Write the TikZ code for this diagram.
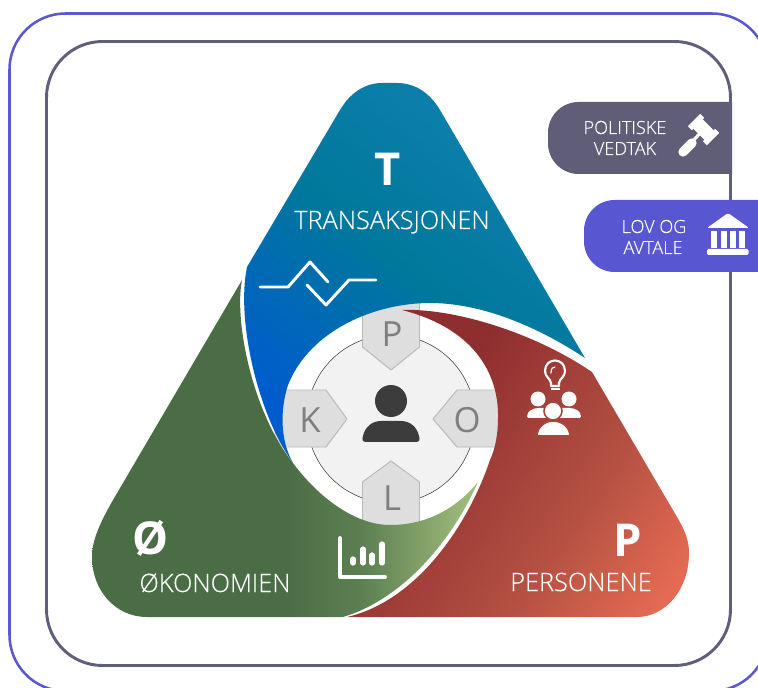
\documentclass[tikz,border=0pt]{standalone}
\usepackage{fontspec}
\setmainfont{Open Sans Light}[FakeBold=0.25]
\newfontfamily\regularfont{Open Sans}
\definecolor{rimpurple}{HTML}{5A58D0}
\definecolor{rimgrey}{HTML}{5F5E7C}
\definecolor{tabgrey}{HTML}{5F5D78}
\definecolor{tabpurple}{HTML}{5856D0}
\definecolor{peggrey}{HTML}{DEDEDE}
\definecolor{pegline}{HTML}{B8B8B8}
\definecolor{pegtext}{HTML}{7F7F7F}
\definecolor{hubgrey}{HTML}{F2F2F2}
\definecolor{figgrey}{HTML}{3C3C3C}
\definecolor{redhalo}{HTML}{A5473D}
\definecolor{bluelow}{HTML}{005CCD}
\definecolor{bluemid}{HTML}{00789B}
\definecolor{bluetop}{HTML}{1080B0}
\definecolor{greenlow}{HTML}{4B6D46}
\definecolor{greenmid}{HTML}{5C8052}
\definecolor{greenhigh}{HTML}{A5C07E}
\definecolor{redlow}{HTML}{8F2E2F}
\definecolor{redmid}{HTML}{B45143}
\definecolor{redhigh}{HTML}{E46A52}
\pgfdeclarehorizontalshading{greenfade}{100bp}{color(0bp)=(greenlow);
	color(50bp)=(greenlow);
	color(60bp)=(greenmid);
	color(75bp)=(greenhigh);
	color(100bp)=(greenhigh)}
\pgfdeclarehorizontalshading{redfade}{100bp}{color(0bp)=(redlow);
	color(35bp)=(redlow);
	color(62bp)=(redmid);
	color(80bp)=(redhigh);
	color(100bp)=(redhigh)}
\tikzset{
	rim/.style={line width=2.2pt,rounded corners=42pt},
	peg/.style={fill=peggrey,draw=pegline,line width=0.7pt},
	pegletter/.style={anchor=base,text=pegtext,font=\regularfont\fontsize{26}{26}\selectfont},
	bigletter/.style={anchor=base,text=white,font=\regularfont\bfseries\fontsize{34}{34}\selectfont},
	wedgetitle/.style={anchor=base,text=white,font=\fontsize{19}{19}\selectfont},
	tabtext/.style={anchor=base,text=white,font=\fontsize{13.6}{13.6}\selectfont},
	iconline/.style={draw=white,line width=2.2pt}
}
\begin{document}
\begin{tikzpicture}[x=0.75pt,y=-0.75pt,line join = round, line cap = round]
	\useasboundingbox (0,0) rectangle (758,688);
	\clip (0,0) rectangle (758,688);
	% frames
	\draw[rim,draw=rimpurple,line width=1.9pt] (9.5,13.5) rectangle (768,691);
	\draw[rim,draw=rimgrey] (46.5,41.5) rectangle (730.5,665.5);
	% tabs
	\fill[tabgrey] (732,102) [rounded corners=23pt] -- (548,102) -- (548,174) [sharp corners] -- (732,174) -- cycle;
	\fill[tabpurple] (760,200) [rounded corners=23pt] -- (584,200) -- (584,272) [sharp corners] -- (760,272) -- cycle;
	\node[tabtext] (politiske) at (625,134) {POLITISKE};
	\node[tabtext] (vedtak) at (625,155) {VEDTAK};
	\node[tabtext] (lovog) at (654,233) {LOV OG};
	\node[tabtext] (avtale) at (653,254) {AVTALE};
	% gavel
	\draw[white,line width=2.4pt,line cap=butt] (703,130) -- (692,142);
	\draw[white,line width=7pt] (692,143) -- (683,152);
	\draw[white,line width=10pt,line cap=butt] (697,123) -- (710,136);
	\draw[white,line width=13pt,line cap=butt] (694,120) -- (698,124);
	\draw[white,line width=13pt,line cap=butt] (709,135) -- (713,139);
	% bank
	\fill[white,rounded corners=1pt] (728,213) -- (749,228) -- (707,228) -- cycle;
	\foreach \colx in {714,723.5,733,742}
		\fill[white] (\colx-3,231) rectangle (\colx+3,248);
	\fill[white,rounded corners=1pt] (707,249) rectangle (748.5,255);
	% hub
	\fill[hubgrey] (391,419) circle (84);
	\draw[figgrey,line width=0.4pt] (391,419) circle (84);
	\draw[peg] (362.5,295) -- (362.5,347) -- (391,370) -- (419.5,347) -- (419.5,295) -- cycle;
	\draw[peg] (275,390) -- (326,390) -- (347,419) -- (326,447) -- (275,447) -- cycle;
	\draw[peg] (505,390) -- (457,390) -- (433,419) -- (457,447) -- (505,447) -- cycle;
	\draw[peg] (362.5,535) -- (362.5,482) -- (391,461) -- (419.5,482) -- (419.5,535) -- cycle;
	\node[pegletter] (pegp) at (392,347) {P};
	\node[pegletter] (pegk) at (310,432) {K};
	\node[pegletter] (pego) at (467,432) {O};
	\node[pegletter] (pegl) at (392,510) {L};
	% figure
	\fill[figgrey] (391,401) circle (16);
	\fill[figgrey] (366,442) .. controls (362,442) and (362,439) .. (363,436) .. controls (365,427) and (372,421) .. (381,421) -- (401,421) .. controls (410,421) and (417,427) .. (419,436) .. controls (420,439) and (420,442) .. (416,442) -- cycle;
	% wedges
	\shade[bottom color=bluelow,top color=bluetop,middle color=bluemid,shading angle=-40]
		(293,463) .. controls (258,415) and (236,320) .. (247,267)
		-- (340,110) .. controls (350,93) and (365,83) .. (382,83) -- (397,83) .. controls (415,83) and (430,93) .. (440,110)
		-- (585,358) .. controls (535,325) and (480,303) .. (430,303)
		.. controls (375,303) and (310,330) .. (288,385)
		.. controls (280,410) and (280,440) .. (293,463) -- cycle;
	\shade[shading=redfade,shading angle=-35]
		(402,310) .. controls (450,308) and (530,330) .. (592,372)
		-- (677,517) .. controls (686,532) and (689,542) .. (689,553) .. controls (689,590) and (665,617) .. (637,617)
		-- (347,617) .. controls (420,600) and (470,520) .. (490,460)
		.. controls (496,447) and (498,432) .. (498,418)
		.. controls (499,380) and (480,330) .. (402,310) -- cycle;
	\shade[shading=greenfade]
		(242,280) -- (113,500) .. controls (100,523) and (92,540) .. (92,557) .. controls (92,590) and (115,617) .. (147,617)
		-- (343,617) .. controls (400,600) and (450,545) .. (478,482)
		.. controls (455,510) and (425,525) .. (390,525)
		.. controls (355,525) and (318,497) .. (293,463)
		.. controls (252,412) and (234,320) .. (242,280) -- cycle;
	% wedge texts
	\node[bigletter] (letterT) at (388,186) {T};
	\node[wedgetitle] (transaksjonen) at (392,229) {TRANSAKSJONEN};
	\node[bigletter] (letterO) at (151,554) {Ø};
	\node[wedgetitle] (okonomien) at (215,592) {ØKONOMIEN};
	\node[bigletter] (letterP) at (628,556) {P};
	\node[wedgetitle] (personene) at (581,591) {PERSONENE};
	% trend icon
	\draw[iconline] (260,287) -- (288,287) -- (310,262) -- (328,282);
	\draw[iconline] (307,285) -- (326,305) -- (349,280) -- (376,280);
	% chart icon
	\draw[iconline,line width=2.9pt] (340,538) -- (340,577) -- (385,577);
	\foreach \barx/\bary in {353/559,363/549,372/555,382/544}
		\draw[white,line width=3.9pt] (\barx,\bary) -- (\barx,563);
	% people icon
	\draw[white,line width=1.6pt] (551,386) -- (551,383) .. controls (550,378) and (545,377) .. (545,371) .. controls (545,357) and (565,357) .. (565,371) .. controls (565,377) and (560,378) .. (559,383) -- (559,386) -- cycle;
	\draw[white,line width=0.9pt] (551,373) .. controls (551,368) and (553,367) .. (555,367);
	\fill[white] (550.5,388) rectangle (559.5,390.5);
	\fill[white] (538,399) circle (7.5);
	\fill[white] (569,399) circle (7.5);
	\fill[white,rounded corners=1pt] (527,418) .. controls (527,411) and (533,408) .. (540,408) -- (568,408) .. controls (575,408) and (581,411) .. (581,418) -- cycle;
	\fill[white,draw=redhalo,line width=1.2pt] (553,411) circle (9);
	\fill[white,draw=redhalo,line width=1.2pt] (537,436) .. controls (537,428) and (544,421) .. (553,421) .. controls (563,421) and (570,428) .. (570,436) -- cycle;
\end{tikzpicture}
\end{document}
